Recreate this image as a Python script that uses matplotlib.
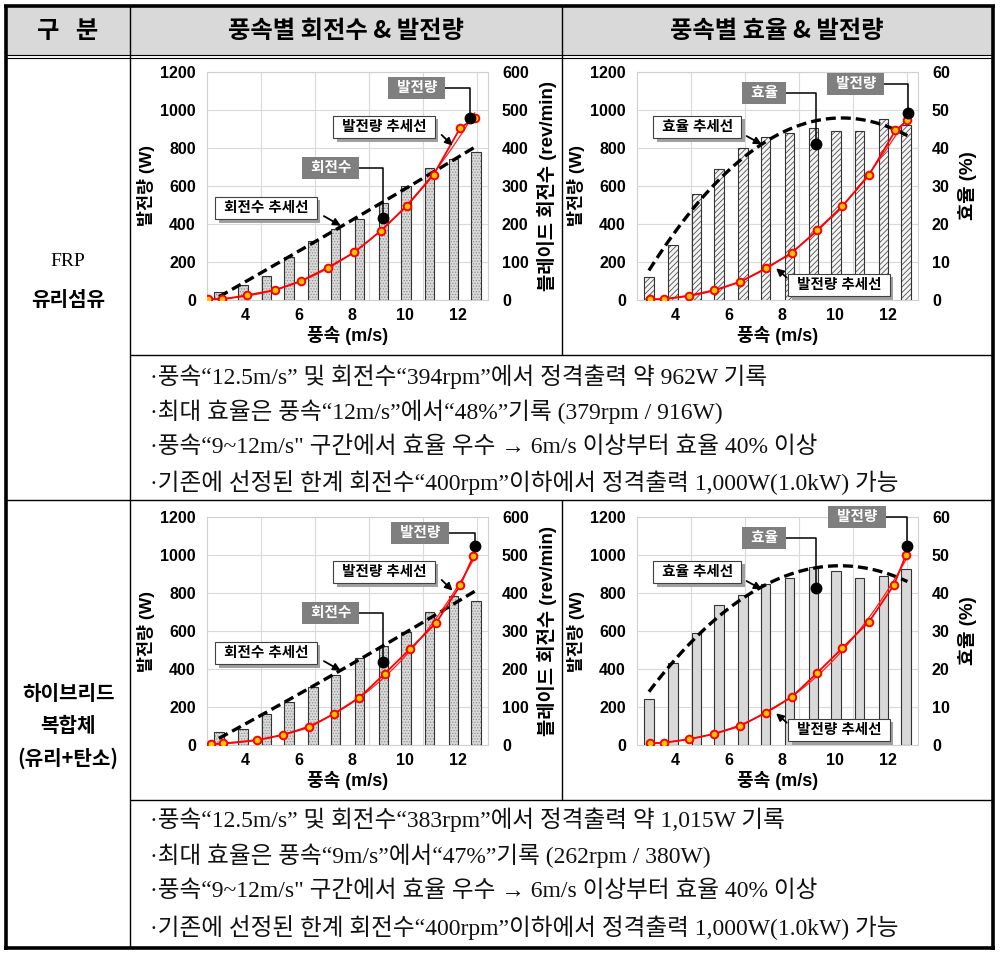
import numpy as np
import matplotlib
matplotlib.use("Agg")
import matplotlib.pyplot as plt
import matplotlib.patheffects as pe
from matplotlib.lines import Line2D
from matplotlib.patches import Rectangle

SANS = ['Liberation Sans', 'Noto Sans CJK KR']
SERIF = ['Liberation Serif', 'Noto Sans CJK KR']
plt.rcParams['font.family'] = SANS
plt.rcParams['font.weight'] = 'bold'
plt.rcParams['axes.labelweight'] = 'bold'
plt.rcParams['hatch.linewidth'] = 0.6

# ---- data ----
bar_ws = [3.0, 3.9, 4.8, 5.65, 6.55, 7.4, 8.3, 9.2, 10.05, 10.95, 11.85, 12.7]

frp_rpm = [22, 39, 64, 114, 155, 187, 213, 256, 300, 348, 372, 390]
frp_eff = [6.0, 14.6, 27.8, 34.4, 40.0, 42.8, 44.0, 45.3, 44.5, 44.6, 47.5, 46.1]
frp_ws_a = [2.6, 3.1, 4.05, 5.1, 6.1, 7.1, 8.1, 9.1, 10.1, 11.1, 12.1, 12.65]
frp_pw_a = [5, 3, 25, 52, 100, 170, 250, 363, 496, 660, 905, 958]
frp_ws_b = [3.05, 3.55, 4.5, 5.45, 6.45, 7.4, 8.4, 9.35, 10.3, 11.3, 12.3, 12.75]
frp_pw_b = [4, 4, 23, 51, 96, 166, 249, 368, 494, 657, 893, 945]

hyb_rpm = [35, 41, 81, 112, 152, 184, 230, 260, 298, 349, 391, 380]
hyb_eff = [12.0, 21.6, 29.5, 36.8, 39.4, 42.3, 44.0, 46.8, 45.8, 44.0, 44.4, 46.4]
hyb_ws_a = [2.7, 3.15, 4.45, 5.4, 6.4, 7.35, 8.3, 9.25, 10.2, 11.2, 12.1, 12.6]
hyb_pw_a = [5, 8, 26, 53, 93, 165, 250, 375, 504, 644, 840, 995]
hyb_ws_b = [3.05, 3.55, 4.5, 5.45, 6.45, 7.4, 8.4, 9.35, 10.3, 11.3, 12.25, 12.7]
hyb_pw_b = [9, 12, 30, 58, 100, 170, 254, 380, 511, 648, 844, 1002]

header = ['구   분', '풍속별 회전수 & 발전량', '풍속별 효율 & 발전량']

frp_notes = [
    '·풍속“12.5m/s” 및 회전수“394rpm”에서 정격출력 약 962W 기록',
    '·최대 효율은 풍속“12m/s”에서“48%”기록 (379rpm / 916W)',
    '·풍속“9~12m/s" 구간에서 효율 우수 → 6m/s 이상부터 효율 40% 이상',
    '·기존에 선정된 한계 회전수“400rpm”이하에서 정격출력 1,000W(1.0kW) 가능',
]
hyb_notes = [
    '·풍속“12.5m/s” 및 회전수“383rpm”에서 정격출력 약 1,015W 기록',
    '·최대 효율은 풍속“9m/s”에서“47%”기록 (262rpm / 380W)',
    '·풍속“9~12m/s" 구간에서 효율 우수 → 6m/s 이상부터 효율 40% 이상',
    '·기존에 선정된 한계 회전수“400rpm”이하에서 정격출력 1,000W(1.0kW) 가능',
]

W, H = 1005, 955
fig = plt.figure(figsize=(W / 100, H / 100), dpi=100)


def fx(px):
    return px / W


def fy(py):
    return 1 - py / H


def line(x0, y0, x1, y1, lw=1.0):
    fig.add_artist(Line2D([fx(x0), fx(x1)], [fy(y0), fy(y1)], color='black',
                          lw=lw, transform=fig.transFigure, solid_capstyle='butt'))


#Table frame

fig.add_artist(Rectangle((fx(6), fy(55)), fx(993) - fx(6), fy(6) - fy(55),
                         transform=fig.transFigure, fc='#d9d9d9', ec='none'))
line(6, 55, 993, 55, 0.8)
line(6, 58, 993, 58, 0.8)
line(130, 6, 130, 948, 1.0)
line(562, 6, 562, 355, 1.0)
line(562, 500, 562, 800, 1.0)
line(130, 355, 993, 355, 1.0)
line(6, 500, 993, 500, 1.0)
line(130, 800, 993, 800, 1.0)
line(4, 6.5, 995, 6.5, 2.6)
line(4, 948, 995, 948, 2.6)
line(6, 5, 6, 950, 2.6)
line(993, 5, 993, 950, 2.6)

for s, x in zip(header, [68, 346, 777]):
    fig.text(fx(x), fy(31), s, ha='center', va='center', fontsize=17.5,
             weight='bold', family=['Noto Sans CJK KR', 'DejaVu Sans'])

fig.text(fx(68), fy(262), 'FRP', ha='center', va='center', fontsize=14,
         weight='normal', family=SERIF)
fig.text(fx(68), fy(299), '유리섬유', ha='center', va='center', fontsize=14.5,
         weight='bold', family=['Noto Sans CJK KR'])
for s, y in zip(['하이브리드', '복합체', '(유리+탄소)'], [693, 725, 758]):
    fig.text(fx(68), fy(y), s, ha='center', va='center', fontsize=14.5,
             weight='bold', family=['Noto Sans CJK KR'])

for notes, ys in [(frp_notes, [377, 412, 447, 483]), (hyb_notes, [820, 856, 891, 928])]:
    for s, y in zip(notes, ys):
        fig.text(fx(150), fy(y), s, ha='left', va='center', fontsize=17,
                 weight='normal', family=SERIF, color='#111111')


#Charts

def gray_tag(ax, text, box, dot):
    bx, by = box
    dx, dy = dot
    ax.plot([bx, dx, dx], [by, by, dy], color='black', lw=1.1,
            transform=ax.transAxes, clip_on=False, zorder=6)
    ax.plot([dx], [dy], 'o', color='black', ms=7.5, transform=ax.transAxes,
            clip_on=False, zorder=7)
    ax.text(bx, by, ' ' + text + ' ', transform=ax.transAxes, ha='center', va='center',
            color='white', fontsize=10.5, weight='bold', zorder=8,
            bbox=dict(boxstyle='square,pad=0.3', fc='#7f7f7f', ec='none'))


def white_tag(ax, text, box, tail, tip):
    t = ax.text(box[0], box[1], ' ' + text + ' ', transform=ax.transAxes,
                ha='center', va='center', color='black', fontsize=10.5,
                weight='bold', zorder=9,
                bbox=dict(boxstyle='square,pad=0.3', fc='white', ec='#404040', lw=0.8))
    t.get_bbox_patch().set_path_effects([
        pe.SimplePatchShadow(offset=(2.5, -2.5), shadow_rgbFace='#a0a0a0', alpha=1.0),
        pe.Normal()])
    ax.annotate('', xy=tip, xytext=tail, xycoords='axes fraction',
                textcoords='axes fraction', annotation_clip=False, zorder=9,
                arrowprops=dict(arrowstyle='-|>', color='black', lw=1.3,
                                mutation_scale=11, shrinkA=0, shrinkB=0))


def chart(left, top, bars, style, rmax, rlabel, pw_ws, pw, grays, whites):
    ax = fig.add_axes([fx(left), fy(top + 228), 281 / W, 228 / H])
    ax2 = ax.twinx()
    ax.set_xlim(2.55, 13.15)
    ax.set_ylim(0, rmax)
    ax.set_axisbelow(True)

    if style == 'dots':
        ax.bar(bar_ws, bars, width=0.36, color='#dadada', hatch='......',
               edgecolor='#909090', lw=0, zorder=2)
    elif style == 'diag':
        ax.bar(bar_ws, bars, width=0.36, color='#f4f4f4', hatch='//////',
               edgecolor='#505050', lw=0, zorder=2)
    else:
        ax.bar(bar_ws, bars, width=0.36, color='#d9d9d9', lw=0, zorder=2)
    ax.bar(bar_ws, bars, width=0.36, fill=False, edgecolor='#333333', lw=0.8, zorder=3)

    # polynomial trendline of the bar series
    c = np.polyfit(bar_ws, bars, 2)
    xs = np.linspace(bar_ws[0], bar_ws[-1] + 0.05, 100)
    ax.plot(xs, np.polyval(c, xs), color='black', lw=2.4, dashes=(3, 1.5), zorder=4)

    # bars scale on the right, power scale on the left
    ax.yaxis.tick_right()
    ax.yaxis.set_label_position('right')
    ax.set_yticks(np.linspace(0, rmax, 7))
    ax.set_xticks([4, 6, 8, 10, 12])
    ax.set_xticks(np.arange(4.6, 13.0, 2.03), minor=True)
    ax.grid(axis='y', which='major', color='#d9d9d9', lw=0.8)
    ax.grid(axis='x', which='minor', color='#d9d9d9', lw=0.8)
    ax.tick_params(which='both', length=0)
    ax.tick_params(axis='y', pad=10, labelsize=11.5)
    ax.tick_params(axis='x', pad=6, labelsize=11.5)
    ax.set_ylabel(rlabel, fontsize=13.5, labelpad=6)
    ax.set_xlabel('풍속 (m/s)', fontsize=13, labelpad=2)
    for sp in ax.spines.values():
        sp.set_color('#d0d0d0')
        sp.set_linewidth(0.8)

    ax2.set_ylim(0, 1200)
    ax2.yaxis.tick_left()
    ax2.yaxis.set_label_position('left')
    ax2.set_yticks(np.arange(0, 1201, 200))
    ax2.tick_params(length=0, pad=8, labelsize=11.5)
    ax2.set_ylabel('발전량 (W)', fontsize=12.5, labelpad=4)
    for sp in ax2.spines.values():
        sp.set_visible(False)

    # cubic trendline of power + measured power
    c = np.polyfit(pw_ws, pw, 3)
    xs = np.linspace(pw_ws[0], pw_ws[-1], 100)
    ax2.plot(xs, np.polyval(c, xs), color='#ff2020', lw=0.9, zorder=4)
    ax2.plot(pw_ws, pw, '-o', color='#ff0000', lw=1.3, ms=5.5, mfc='#ffc400',
             mec='#ff0000', mew=1.4, zorder=5)

    for g in grays:
        gray_tag(ax2, *g)
    for w in whites:
        white_tag(ax2, *w)


rev_label = '블레이드 회전수 (rev/min)'
eff_label = '효율 (%)'

chart(207, 72, frp_rpm, 'dots', 600, rev_label, frp_ws_a, frp_pw_a,
      [('발전량', (0.747, 0.930), (0.936, 0.798)),
       ('회전수', (0.441, 0.579), (0.626, 0.36))],
      [('발전량 추세선', (0.63, 0.759), (0.835, 0.724), (0.874, 0.677)),
       ('회전수 추세선', (0.21, 0.404), (0.416, 0.368), (0.476, 0.326))])

chart(637, 72, frp_eff, 'diag', 60, eff_label, frp_ws_b, frp_pw_b,
      [('효율', (0.452, 0.908), (0.637, 0.683)),
       ('발전량', (0.779, 0.947), (0.966, 0.819))],
      [('효율 추세선', (0.214, 0.759), (0.39, 0.719), (0.444, 0.683)),
       ('발전량 추세선', (0.719, 0.066), (0.533, 0.098), (0.495, 0.139))])

chart(207, 517, hyb_rpm, 'dots', 600, rev_label, hyb_ws_a, hyb_pw_a,
      [('발전량', (0.758, 0.93), (0.954, 0.873)),
       ('회전수', (0.441, 0.579), (0.625, 0.363))],
      [('발전량 추세선', (0.63, 0.759), (0.835, 0.724), (0.874, 0.677)),
       ('회전수 추세선', (0.21, 0.404), (0.416, 0.368), (0.476, 0.326))])

chart(637, 517, hyb_eff, 'plain', 60, eff_label, hyb_ws_b, hyb_pw_b,
      [('효율', (0.452, 0.908), (0.637, 0.687)),
       ('발전량', (0.783, 1.0), (0.96, 0.873))],
      [('효율 추세선', (0.214, 0.759), (0.39, 0.719), (0.444, 0.683)),
       ('발전량 추세선', (0.719, 0.066), (0.533, 0.098), (0.495, 0.139))])

fig.savefig('out.png', dpi=100)
